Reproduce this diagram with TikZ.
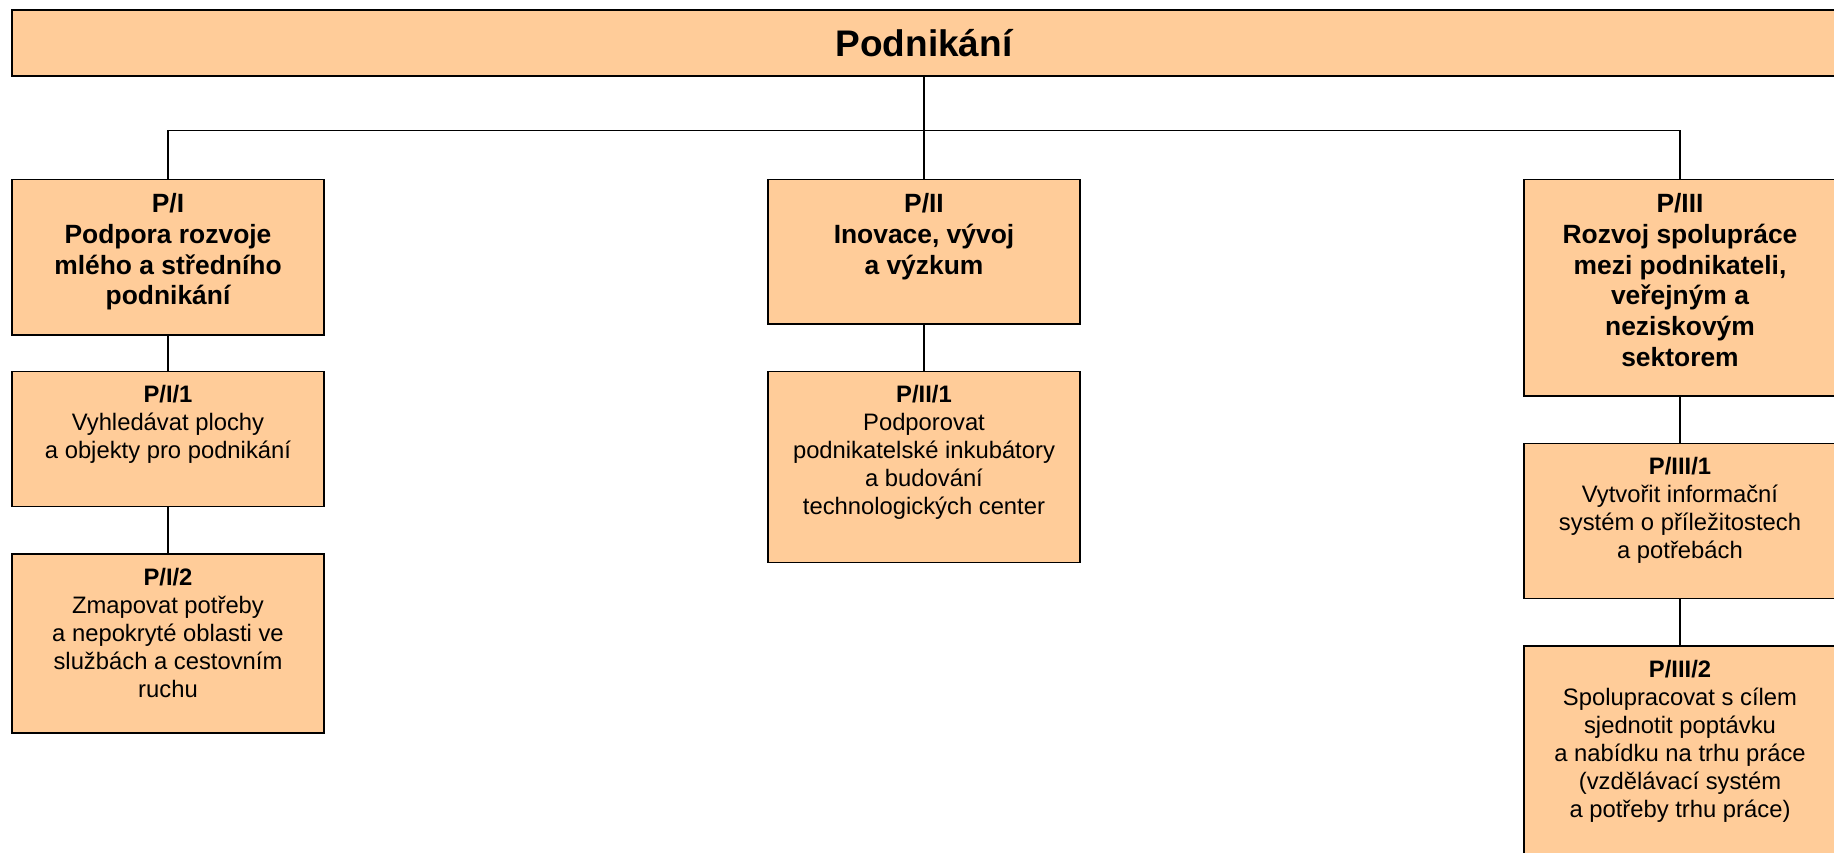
\documentclass[tikz,border=0pt]{standalone}
\usepackage{fontspec}
\setmainfont{Liberation Sans}
\definecolor{peach}{rgb}{1,0.8,0.6}
\newcommand{\boxtxt}[2]{\parbox[c][#1][t]{312pt}{\centering\vspace*{14pt}#2}}

\begin{document}
\begin{tikzpicture}[x=1pt, y=-1pt,
    box/.style={draw, fill=peach, line width=1.5pt, inner sep=0pt, anchor=north},
    head/.style={font=\fontsize{26.4}{30.7}\selectfont\bfseries},
    item/.style={font=\fontsize{23.8}{28}\selectfont},
    link/.style={line width=1.5pt}]
    \useasboundingbox (0,0) rectangle (1834,853);
    \clip (0,0) rectangle (1834,853);
    % top
    \node[box, anchor=center, minimum width=1824pt, minimum height=66pt, text height=26.5pt, text depth=0pt,
        font=\fontsize{37}{42}\selectfont\bfseries] (top) at (924,43) {Podnikání};
    % first level
    \node[box, head] (pI) at (168,179) {\boxtxt{155pt}{P/I\\Podpora rozvoje\\mlého a středního\\podnikání}};
    \node[box, head] (pII) at (924,179) {\boxtxt{144pt}{P/II\\Inovace, vývoj\\a výzkum}};
    \node[box, head] (pIII) at (1680,179) {\boxtxt{216pt}{P/III\\Rozvoj spolupráce\\mezi podnikateli,\\veřejným a\\neziskovým\\sektorem}};
    % second level
    \node[box, item] (pI1) at (168,370.7) {\boxtxt{135pt}{\textbf{P/I/1}\\Vyhledávat plochy\\a objekty pro podnikání}};
    \node[box, item] (pI2) at (168,553) {\boxtxt{179pt}{\textbf{P/I/2}\\Zmapovat potřeby\\a nepokryté oblasti ve\\službách a cestovním\\ruchu}};
    \node[box, item] (pII1) at (924,370.7) {\boxtxt{191pt}{\textbf{P/II/1}\\Podporovat\\podnikatelské inkubátory\\a budování\\technologických center}};
    \node[box, item] (pIII1) at (1680,442.7) {\boxtxt{155pt}{\textbf{P/III/1}\\Vytvořit informační\\systém o příležitostech\\a potřebách}};
    \node[box, item] (pIII2) at (1680,645) {\boxtxt{225pt}{\textbf{P/III/2}\\Spolupracovat s cílem\\sjednotit poptávku\\a nabídku na trhu práce\\(vzdělávací systém\\a potřeby trhu práce)}};
    % connectors
    \coordinate (jl) at (168,130.7);
    \coordinate (jr) at (1680,130.7);
    \draw[link] (top.south) -- (top.south |- jl);
    \draw[link] (pI.north) -- (jl) -- (jr) -- (pIII.north);
    \draw[link] (top.south |- jl) -- (pII.north);
    \draw[link] (pI.south) -- (pI1.north);
    \draw[link] (pI1.south) -- (pI2.north);
    \draw[link] (pII.south) -- (pII1.north);
    \draw[link] (pIII.south) -- (pIII1.north);
    \draw[link] (pIII1.south) -- (pIII2.north);
\end{tikzpicture}
\end{document}
